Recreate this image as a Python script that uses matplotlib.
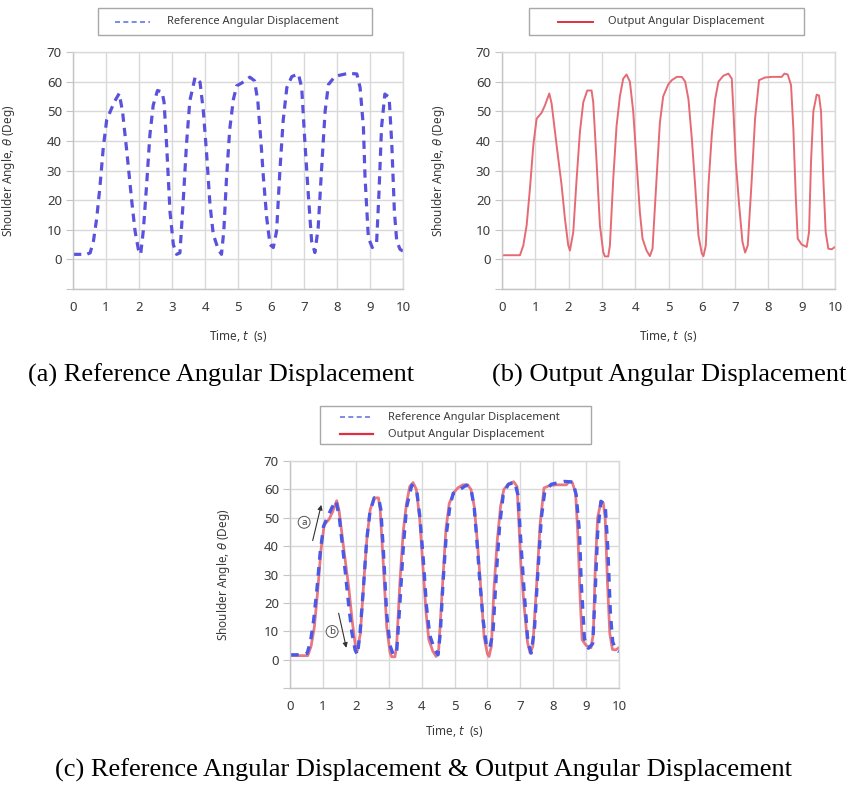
import matplotlib
matplotlib.use("Agg")
import matplotlib.pyplot as plt
from matplotlib.patches import Rectangle
from matplotlib.lines import Line2D

# ---------------- data ----------------
t_out = [0, 0.54, 0.64, 0.74, 0.84, 0.94, 1.04, 1.19, 1.29, 1.42, 1.49, 1.64, 1.79, 1.89, 1.99, 2.04,
         2.14, 2.24, 2.34, 2.44, 2.56, 2.69, 2.74, 2.84, 2.94, 3.04, 3.09, 3.19, 3.24, 3.34, 3.44,
         3.54, 3.64, 3.74, 3.84, 3.94, 4.04, 4.14, 4.22, 4.34, 4.44, 4.52, 4.64, 4.74, 4.84, 4.99,
         5.1, 5.25, 5.4, 5.5, 5.6, 5.7, 5.8, 5.9, 6.0, 6.05, 6.12, 6.2, 6.3, 6.4, 6.5, 6.65, 6.8,
         6.9, 6.95, 7.02, 7.12, 7.22, 7.3, 7.38, 7.5, 7.6, 7.72, 7.9, 8.1, 8.4, 8.48, 8.58, 8.68,
         8.75, 8.82, 8.88, 9.0, 9.15, 9.22, 9.28, 9.35, 9.45, 9.52, 9.58, 9.65, 9.72, 9.8, 9.9, 10.0]
y_out = [1.4, 1.4, 4.7, 11.5, 24, 38.5, 47.5, 49.5, 52, 56, 52.6, 38.5, 25, 13.7, 4.7, 3,
         9.2, 27, 43, 53, 57, 57, 53, 33, 11.5, 2.5, 1, 1, 4.7, 27, 45,
         55, 61, 62.4, 60, 50, 33, 16, 7, 3, 1.1, 3.6, 27, 46, 55, 59,
         60.5, 61.6, 61.6, 60, 54, 40.8, 25, 8, 2, 1.1, 4.7, 25, 42, 54, 60, 62, 62.7,
         61, 50, 33, 18.5, 6, 2.3, 4.7, 27, 47.5, 60.5, 61.4, 61.6, 61.6, 62.7, 62.4, 58.8,
         44, 21.6, 7, 5, 4.2, 9.2, 33, 50, 55.6, 55.3, 50, 27, 9.2, 3.6, 3.4, 4.2]

t_ref = [0, 0.41, 0.52, 0.62, 0.72, 0.82, 0.92, 1.02, 1.17, 1.27, 1.4, 1.5, 1.63, 1.78, 1.88, 1.98,
         2.05, 2.13, 2.23, 2.33, 2.43, 2.56, 2.7, 2.76, 2.84, 2.94, 3.04, 3.14, 3.24, 3.34, 3.44,
         3.54, 3.7, 3.85, 3.95, 4.05, 4.15, 4.25, 4.4, 4.5, 4.57, 4.65, 4.75, 4.86, 4.96, 5.11,
         5.36, 5.5, 5.6, 5.7, 5.77, 5.87, 5.97, 6.07, 6.17, 6.27, 6.37, 6.48, 6.63, 6.83, 6.93,
         7.03, 7.13, 7.23, 7.33, 7.43, 7.53, 7.64, 7.74, 7.94, 8.34, 8.6, 8.7, 8.8, 8.85, 8.95,
         9.07, 9.2, 9.27, 9.35, 9.45, 9.58, 9.66, 9.74, 9.81, 9.91, 10.0]
y_ref = [1.7, 1.7, 2.2, 6.2, 14, 25, 38, 47, 51, 53.5, 56, 50, 36.5, 19.7, 9.6, 3.4,
         1.7, 9.6, 25, 42, 52, 57, 56.5, 53, 38, 16, 5, 1.7, 2.2, 19.7, 39,
         53.5, 61.5, 59.8, 50, 35.5, 18.6, 8.5, 3.4, 1.7, 9.6, 27, 44, 54, 58.6, 59.5,
         61.5, 60.3, 53.5, 39, 27.6, 14, 5, 4, 9.6, 30, 47, 58, 61.7, 62.6, 58,
         39, 22, 6.2, 2.3, 10.7, 30, 50, 59, 61.8, 62.8, 62.6, 58, 44.6, 27.6, 7.3,
         4, 5.6, 22, 44.6, 55.8, 54.7, 39, 16, 6.2, 3.4, 2.8]

x_ticks = list(range(0, 11))
y_ticks = list(range(-10, 71, 10))
y_tick_labels = [""] + [str(v) for v in range(0, 71, 10)]

ref_label = "Reference Angular Displacement"
out_label = "Output Angular Displacement"
captions = ["(a) Reference Angular Displacement",
            "(b) Output Angular Displacement",
            "(c) Reference Angular Displacement & Output Angular Displacement"]

# ---------------- styling ----------------
W, H = 847, 786
REF_C = "#5a52dc"
REF_C2 = "#4a5ae6"
OUT_C = "#e66a74"
GRID_C = "#d9d9d9"
TXT_C = "#3a3a3a"
SANS = ["Noto Sans", "DejaVu Sans"]
SERIF = ["Liberation Serif", "DejaVu Serif"]

fig = plt.figure(figsize=(W / 100, H / 100), dpi=100)


def fx(x):
    return x / W


def fy(y):
    return 1 - y / H


def make_axes(l, r, t, b, ylab_x, xlab_y):
    ax = fig.add_axes([fx(l), fy(b), fx(r) - fx(l), fy(t) - fy(b)])
    ax.set_xlim(0, 10)
    ax.set_ylim(-10, 70)
    ax.set_xticks(x_ticks)
    ax.set_yticks(y_ticks)
    ax.set_yticklabels(y_tick_labels)
    ax.grid(True, color=GRID_C, lw=1.0)
    ax.set_axisbelow(True)
    for s in ax.spines.values():
        s.set_color(GRID_C)
        s.set_linewidth(1.0)
    ax.spines["left"].set_color("#c4c4c4")
    ax.spines["bottom"].set_color("#c4c4c4")
    ax.tick_params(axis="y", length=5, color="#c4c4c4", pad=3, labelsize=9.5, labelcolor=TXT_C)
    ax.tick_params(axis="x", length=0, pad=9, labelsize=9.5, labelcolor=TXT_C)
    for lab in ax.get_xticklabels() + ax.get_yticklabels():
        lab.set_family(SANS)
    ax.set_ylabel(r"Shoulder Angle, $\theta$ (Deg)", fontsize=8.5, color=TXT_C, family=SANS)
    ax.yaxis.set_label_coords(ylab_x, 0.5)
    ax.set_xlabel(r"Time, $t$  (s)", fontsize=8.5, color=TXT_C, family=SANS)
    ax.xaxis.set_label_coords(0.5, xlab_y)
    return ax


def legend_box(x0, y0, x1, y1, entries):
    fig.add_artist(Rectangle((fx(x0), fy(y1)), fx(x1) - fx(x0), fy(y0) - fy(y1),
                             transform=fig.transFigure, fill=False, ec="#a8a8a8", lw=1.0))
    for (lx0, lx1, tx, yy, label, kw) in entries:
        fig.add_artist(Line2D([fx(lx0), fx(lx1)], [fy(yy), fy(yy)], transform=fig.transFigure, **kw))
        fig.text(fx(tx), fy(yy), label, fontsize=8, color=TXT_C, family=SANS, va="center", ha="left")


# panel (a)
ax_a = make_axes(73, 403, 52, 289, -0.17, -0.165)
ax_a.plot(t_ref, y_ref, color=REF_C, lw=2.3, dashes=(2.6, 1.9))
legend_box(98, 8, 372, 35, [(115, 150, 167, 21.5, ref_label,
                             dict(color="#6a78e0", lw=1.2, dashes=(3, 2)))])

# panel (b)
ax_b = make_axes(502, 835, 52, 289, -0.165, -0.165)
ax_b.plot(t_out, y_out, color=OUT_C, lw=1.4)
legend_box(529, 8, 804, 35, [(558, 593, 608, 21.5, out_label, dict(color="#e03040", lw=1.4))])

# panel (c)
ax_c = make_axes(290, 619, 461, 688, -0.176, -0.155)
ax_c.plot(t_out, y_out, color=OUT_C, lw=2.0, alpha=0.9)
ax_c.plot(t_ref, y_ref, color=REF_C2, lw=2.4, dashes=(2.6, 2.2))
legend_box(320, 406, 591, 444, [
    (340, 373, 388, 417, ref_label, dict(color="#6a78e0", lw=1.2, dashes=(3, 2))),
    (340, 373, 388, 434, out_label, dict(color="#e03040", lw=1.6)),
])

# annotations (a) and (b) markers in panel (c)
circ = dict(boxstyle="circle,pad=0.15", fc="white", ec="#555555", lw=0.7)
ax_c.text(0.43, 48.4, "a", fontsize=7, ha="center", va="center", color="#444444", bbox=circ, family=SANS)
ax_c.text(1.28, 9.9, "b", fontsize=7, ha="center", va="center", color="#444444", bbox=circ, family=SANS)
ax_c.annotate("", xy=(0.97, 55.5), xytext=(0.67, 41),
              arrowprops=dict(arrowstyle="-|>", color="#333333", lw=0.8, mutation_scale=7))
ax_c.annotate("", xy=(1.73, 3.2), xytext=(1.46, 17.3),
              arrowprops=dict(arrowstyle="-|>", color="#333333", lw=0.8, mutation_scale=7))

# captions
fig.text(fx(221), fy(375), captions[0], fontsize=19, family=SERIF, ha="center", va="center", color="black")
fig.text(fx(669), fy(375), captions[1], fontsize=19, family=SERIF, ha="center", va="center", color="black")
fig.text(fx(423), fy(770), captions[2], fontsize=19, family=SERIF, ha="center", va="center", color="black")

fig.savefig("out.png", dpi=100, facecolor="white")
